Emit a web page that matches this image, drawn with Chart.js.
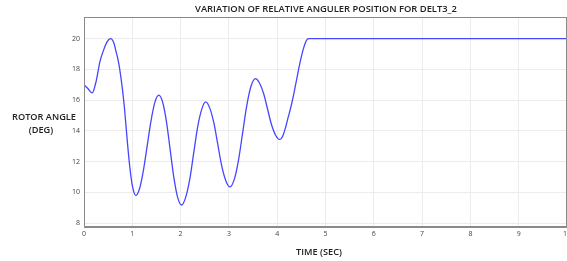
<!DOCTYPE html>
<html>
<head>
<meta charset="utf-8">
<script src="https://cdn.jsdelivr.net/npm/chart.js@4/dist/chart.umd.min.js"></script>
<style>
html,body{margin:0;padding:0;background:#fff;overflow:hidden;}
#wrap{position:relative;width:574px;height:261px;}
</style>
</head>
<body>
<div id="wrap"><canvas id="c" width="574" height="261"></canvas></div>
<script>
const chartTitle = "VARIATION OF RELATIVE ANGULER POSITION FOR DELT3_2";
const yTitleLines = ["ROTOR ANGLE", "(DEG)"];
const xTitle = "TIME (SEC)";
const xTicks = [0,1,2,3,4,5,6,7,8,9,10];
const yTicks = [8,10,12,14,16,18,20];
const timeSec = [0,0.08,0.17,0.25,0.33,0.40,0.48,0.55,0.62,0.66,0.70,0.74,0.80,0.84,0.90,0.95,1.00,1.04,1.07,
  1.15,1.23,1.31,1.39,1.47,1.55,
  1.63,1.71,1.785,1.86,1.94,2.02,
  2.10,2.19,2.27,2.35,2.44,2.52,
  2.60,2.69,2.77,2.85,2.94,3.02,
  3.11,3.20,3.285,3.37,3.46,3.55,
  3.63,3.72,3.80,3.88,3.97,4.05,
  4.12,4.18,4.22,4.28,4.33,4.40,4.47,4.53,4.58,4.62,4.66,5,6,7,8,9,10];
const rotorAngle = [17.0,16.75,16.47,17.2,18.5,19.2,19.8,20.0,19.7,19.2,18.7,18.0,16.6,15.4,13.2,11.6,10.45,9.95,9.8,
  10.24,11.43,13.06,14.69,15.88,16.32,
  15.84,14.54,12.75,10.97,9.66,9.18,
  9.63,10.86,12.53,14.2,15.43,15.88,
  15.51,14.5,13.12,11.74,10.73,10.36,
  10.83,12.12,13.88,15.64,16.93,17.4,
  17.13,16.41,15.42,14.43,13.7,13.44,
  13.7,14.3,14.8,15.5,16.2,17.3,18.4,19.2,19.7,19.95,20.0,20.0,20.0,20.0,20.0,20.0,20.0];

const points = timeSec.map((t,i)=>({x:t,y:rotorAngle[i]}));
const FONT = "'Open Sans', 'DejaVu Sans', sans-serif";

const titlesPlugin = {
  id:'titles',
  afterDraw(chart){
    const ctx = chart.ctx, a = chart.chartArea;
    ctx.save();
    ctx.fillStyle = '#222';
    ctx.textAlign = 'center';
    ctx.textBaseline = 'middle';
    ctx.font = "600 9.4px " + FONT;
    ctx.fillText(chartTitle, 326, 9);
    ctx.font = "600 9.2px " + FONT;
    ctx.fillText(yTitleLines[0], 44, 117);
    ctx.fillText(yTitleLines[1], 41, 130);
    ctx.fillText(xTitle, 319, 252);
    ctx.strokeStyle = '#8a8a8a';
    ctx.lineWidth = 1;
    ctx.strokeRect(a.left+0.5, a.top+0.5, a.right-a.left-1, a.bottom-a.top-1);
    ctx.restore();
  }
};

new Chart(document.getElementById('c'), {
  type:'line',
  data:{datasets:[{
    data:points,
    borderColor:'rgb(70,70,255)',
    borderWidth:1.3,
    pointRadius:0,
    cubicInterpolationMode:'monotone',
    fill:false
  }]},
  options:{
    responsive:false,
    animation:false,
    events:[],
    layout:{padding:{top:17,right:0,left:0,bottom:0}},
    plugins:{legend:{display:false},tooltip:{enabled:false},title:{display:false}},
    scales:{
      x:{
        type:'linear', min:0, max:10,
        afterBuildTicks(s){ s.ticks = xTicks.map(v=>({value:v})); },
        afterFit(s){ s.height = 34; },
        grid:{color:'#ececec', lineWidth:1, drawTicks:false},
        border:{color:'#8a8a8a'},
        ticks:{padding:3, color:'#444', font:{size:7, family:FONT}, maxRotation:0, autoSkip:false}
      },
      y:{
        type:'linear', min:7.75, max:21.4,
        afterBuildTicks(s){ s.ticks = yTicks.map(v=>({value:v})); },
        afterFit(s){ s.width = 84; },
        grid:{color:'#ececec', lineWidth:1, drawTicks:false},
        border:{color:'#8a8a8a'},
        ticks:{padding:4, color:'#444', font:{size:7, family:FONT}}
      }
    }
  },
  plugins:[titlesPlugin]
});
</script>
</body>
</html>
